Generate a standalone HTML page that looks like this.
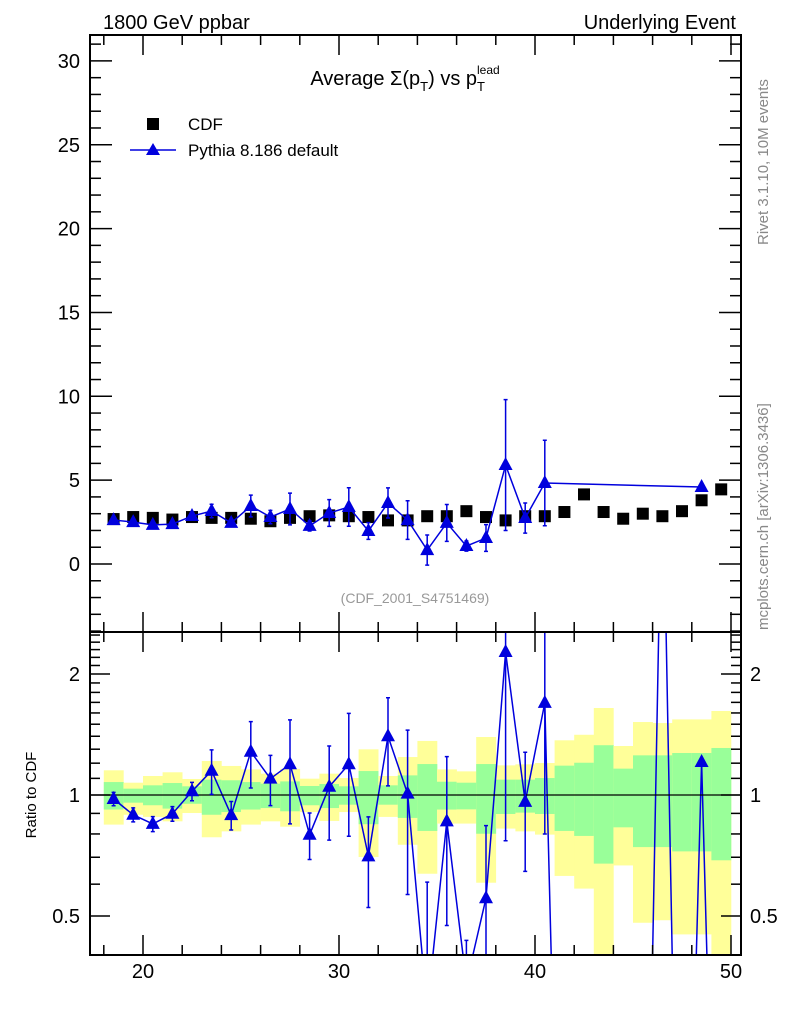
<!DOCTYPE html>
<html><head><meta charset="utf-8"><style>
html,body{margin:0;padding:0;background:#fff;width:786px;height:1024px;overflow:hidden}
svg{display:block;font-family:"Liberation Sans",sans-serif}
</style></head><body>
<svg id="c" width="786" height="1024" xmlns="http://www.w3.org/2000/svg">
<g id="bands"></g>
<g id="main"></g>
<g id="ratio"></g>
<g id="axes"></g>
<text x="103" y="29" font-size="20">1800 GeV ppbar</text>
<text x="736" y="29" font-size="20" text-anchor="end">Underlying Event</text>
<text x="405" y="85" font-size="20" text-anchor="middle">Average Σ(p<tspan font-size="13" dy="6">T</tspan><tspan dy="-6">) vs p</tspan><tspan font-size="13" dy="6">T</tspan><tspan font-size="12" dx="-8" dy="-17">lead</tspan></text>
<rect x="147" y="118" width="12" height="12" fill="#000"/>
<text x="188" y="130" font-size="17">CDF</text>
<line x1="130" y1="150" x2="176" y2="150" stroke="#0000dd" stroke-width="1.5"/>
<path d="M153,143 L160,155 L146,155 Z" fill="#0000dd"/>
<text x="188" y="156" font-size="17">Pythia 8.186 default</text>
<text x="415" y="603" font-size="14" fill="#999" text-anchor="middle">(CDF_2001_S4751469)</text>
<text transform="translate(768,245) rotate(-90)" font-size="15" fill="#888">Rivet 3.1.10,  10M events</text>
<text transform="translate(768,630) rotate(-90)" font-size="15" fill="#888">mcplots.cern.ch [arXiv:1306.3436]</text>
<text transform="translate(36,795) rotate(-90)" font-size="15" text-anchor="middle">Ratio to CDF</text>
</svg>
<script>
const binCenters=[18.5,19.5,20.5,21.5,22.5,23.5,24.5,25.5,26.5,27.5,28.5,29.5,30.5,31.5,32.5,33.5,34.5,35.5,36.5,37.5,38.5,39.5,40.5,41.5,42.5,43.5,44.5,45.5,46.5,47.5,48.5,49.5];
const cdfVals=[2.68,2.8,2.75,2.65,2.8,2.75,2.75,2.7,2.55,2.75,2.85,2.9,2.85,2.8,2.6,2.6,2.85,2.85,3.15,2.8,2.6,2.85,2.85,3.1,4.15,3.1,2.7,3.0,2.85,3.15,3.8,4.45];
const pyVals=[2.62,2.5,2.33,2.38,2.86,3.16,2.45,3.46,2.8,3.28,2.27,3.04,3.4,1.97,3.64,2.62,0.83,2.45,1.07,1.55,5.9,2.74,4.83,null,null,null,null,null,null,null,4.59,null];
const pyErrs=[0.1,0.1,0.1,0.1,0.15,0.4,0.2,0.65,0.4,0.95,0.3,0.8,1.15,0.5,0.9,1.15,0.9,1.1,0.3,0.8,3.9,0.9,2.55,0,0,0,0,0,0,0,0.1,0];
const pyRatioMissing=[0.02,0.02,0.02,0.02,0.02,8,0.02,0.02];
const yelUp=[1.152,1.073,1.115,1.139,1.096,1.215,1.181,1.158,1.130,1.161,1.098,1.130,1.102,1.299,1.115,1.243,1.363,1.158,1.145,1.394,1.185,1.192,1.201,1.368,1.412,1.646,1.324,1.519,1.510,1.542,1.542,1.618];
const yelDn=[0.844,0.893,0.882,0.860,0.902,0.785,0.812,0.844,0.860,0.834,0.907,0.862,0.907,0.701,0.882,0.752,0.637,0.849,0.849,0.605,0.825,0.812,0.797,0.629,0.585,0.35,0.668,0.481,0.488,0.450,0.450,0.35];
const grnUp=[1.077,1.037,1.057,1.071,1.051,1.092,1.088,1.077,1.067,1.081,1.053,1.065,1.051,1.147,1.057,1.119,1.194,1.079,1.073,1.194,1.092,1.092,1.102,1.183,1.203,1.330,1.163,1.255,1.255,1.272,1.272,1.309];
const grnDn=[0.920,0.957,0.943,0.925,0.951,0.893,0.907,0.920,0.928,0.911,0.943,0.928,0.946,0.846,0.946,0.877,0.814,0.920,0.921,0.801,0.897,0.904,0.897,0.814,0.791,0.675,0.831,0.742,0.742,0.724,0.724,0.688];
const mainTicks=[0,5,10,15,20,25,30];
const ratioTicks=[0.5,1,2];
const xTicks=[20,30,40,50];

const NS="http://www.w3.org/2000/svg";
const X=v=>143+(v-20)*19.6;
const Y=v=>564-v*16.77;
const R=r=>795-Math.log2(r)*121;
const RT=632,RB=955;
const cl=y=>Math.max(RT,Math.min(RB,y));
function mk(tag,attrs,parent){const e=document.createElementNS(NS,tag);for(const k in attrs)e.setAttribute(k,attrs[k]);parent.appendChild(e);return e;}
const bands=document.getElementById('bands'),main=document.getElementById('main'),ratio=document.getElementById('ratio'),axes=document.getElementById('axes');
const BLUE="#0000dd";
binCenters.forEach((c,i)=>{
  let e=mk('rect',{x:X(c-0.5),y:cl(R(yelUp[i])),width:X(c+0.5)-X(c-0.5)+0.3,height:cl(R(yelDn[i]))-cl(R(yelUp[i])),fill:'#ffff99'},bands);
  
  
  e=mk('rect',{x:X(c-0.5),y:cl(R(grnUp[i])),width:X(c+0.5)-X(c-0.5)+0.3,height:cl(R(grnDn[i]))-cl(R(grnUp[i])),fill:'#99ff99'},bands);
  
  
});
binCenters.forEach((c,i)=>{
  const e=mk('rect',{x:X(c)-6,y:Y(cdfVals[i])-6,width:12,height:12,fill:'#000'},main);
  
  
});
let pts=[];
binCenters.forEach((c,i)=>{if(pyVals[i]!==null)pts.push([X(c),Y(pyVals[i]),i]);});
let l=mk('polyline',{points:pts.map(p=>p[0]+','+p[1]).join(' '),fill:'none',stroke:BLUE,'stroke-width':1.5},main);


function tri(x,y,g,name){
  const e=mk('path',{d:`M${x},${y-8} L${x+7},${y+5} L${x-7},${y+5} Z`,fill:BLUE},g);
  
  
}
function ebar(x,y1,y2,g,cap1,cap2){
  let d=`M${x},${y1}V${y2}`;
  if(cap1)d+=`M${x-2},${y1}H${x+2}`;
  if(cap2)d+=`M${x-2},${y2}H${x+2}`;
  const e=mk('path',{d:d,stroke:BLUE,'stroke-width':1.5,fill:'none'},g);
  
  
}
pts.forEach(p=>{const i=p[2];if(pyErrs[i]>0.15)ebar(p[0],Y(pyVals[i]+pyErrs[i]),Y(pyVals[i]-pyErrs[i]),main,true,true);tri(p[0],p[1],main,'pythia-point');});
// ratio
let mi=0;const rv=[];
binCenters.forEach((c,i)=>{if(pyVals[i]!==null)rv.push(pyVals[i]/cdfVals[i]);else rv.push(pyRatioMissing[mi++]);});
let segD='';
for(let i=0;i<binCenters.length-1;i++){
  let x1=X(binCenters[i]),y1=R(rv[i]),x2=X(binCenters[i+1]),y2=R(rv[i+1]);
  if((y1<RT&&y2<RT)||(y1>RB&&y2>RB))continue;
  const at=y=>x1+(x2-x1)*(y-y1)/(y2-y1);
  let ax=x1,ay=y1,bx=x2,by=y2;
  if(ay<RT){ax=at(RT);ay=RT;} else if(ay>RB){ax=at(RB);ay=RB;}
  if(by<RT){bx=at(RT);by=RT;} else if(by>RB){bx=at(RB);by=RB;}
  segD+=`M${ax.toFixed(1)},${ay.toFixed(1)}L${bx.toFixed(1)},${by.toFixed(1)}`;
}
l=mk('path',{d:segD,fill:'none',stroke:BLUE,'stroke-width':1.5,'stroke-linejoin':'round'},ratio);


l=mk('line',{x1:90,x2:741,y1:R(1),y2:R(1),stroke:'#000','stroke-width':1.2},ratio);


binCenters.forEach((c,i)=>{if(pyVals[i]===null)return;const r=rv[i],er=pyErrs[i]/cdfVals[i];
  if(er>0.03){const ya=R(r+er),yb=R(Math.max(r-er,0.01));
    if(!(ya>RB||yb<RT))ebar(X(c),cl(ya),cl(yb),ratio,ya>=RT,yb<=RB);}
  const y=R(r);if(y>=RT&&y<=RB)tri(X(c),y,ratio,'pythia-ratio-point');});
[[35,597],[632,323]].forEach(([y,h])=>{const f=mk('rect',{x:90,y:y,width:651,height:h,fill:'none',stroke:'#000','stroke-width':2},axes);
  
  });
function tick(x1,y1,x2,y2){mk('line',{x1,y1,x2,y2,stroke:'#000','stroke-width':1.5},axes);}
for(let v=-4;v<=31;v++){const y=Y(v);const L=(v%5===0)?22:11;tick(90,y,90+L,y);tick(741,y,741-L,y);}
mainTicks.forEach(v=>{const t=mk('text',{x:80,y:Y(v)+7,'font-size':20,'text-anchor':'end'},axes);t.textContent=v;
  
  });
for(let v=18;v<=50;v+=2){const L=(v%10===0)?20:10;const x=X(v);tick(x,35,x,35+L);tick(x,632,x,632+L);tick(x,632,x,632-L);tick(x,955,x,955-L);}
const rm=[0.4,0.6,0.7,0.8,0.9,1.1,1.2,1.3,1.4,1.5,1.6,1.7,1.8,1.9,2.1,2.2,2.3,2.4,2.5];
rm.forEach(r=>{const y=R(r);tick(90,y,100,y);tick(741,y,731,y);});
ratioTicks.forEach(r=>{const y=R(r);tick(90,y,110,y);tick(741,y,721,y);
  let t=mk('text',{x:80,y:y+7,'font-size':20,'text-anchor':'end'},axes);t.textContent=r;
  
  
  t=mk('text',{x:750,y:y+7,'font-size':20},axes);t.textContent=r;
  
  });
xTicks.forEach(v=>{const t=mk('text',{x:X(v),y:978,'font-size':20,'text-anchor':'middle'},axes);t.textContent=v;
  
  });
</script>
</body></html>
